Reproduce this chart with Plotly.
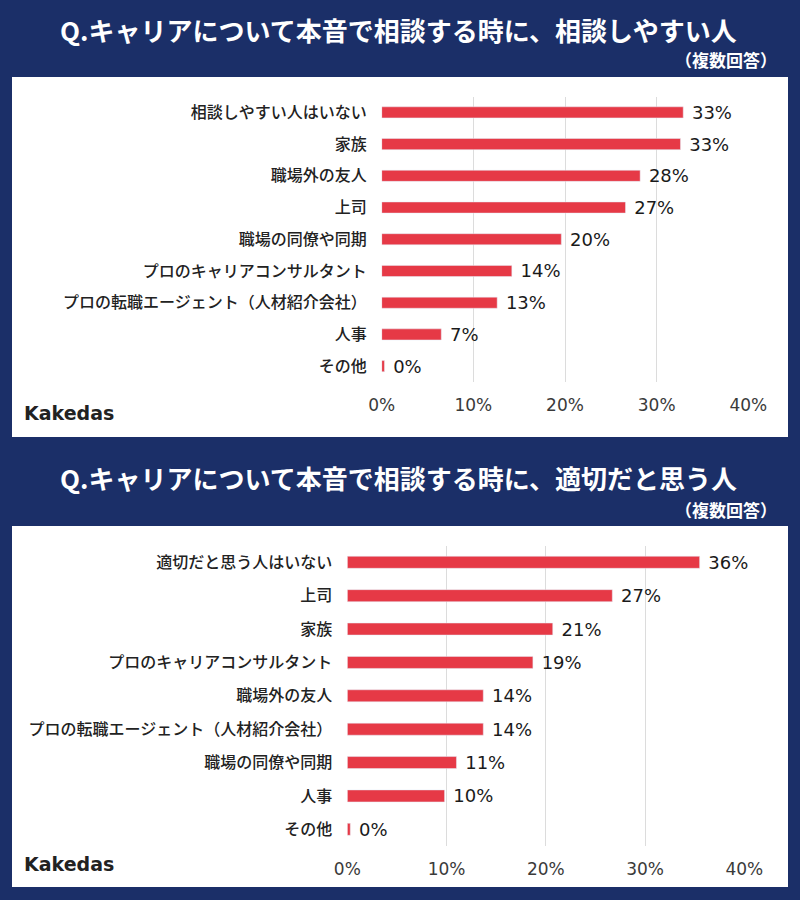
import plotly.graph_objects as go

# ---- data ----
cats_top = ["相談しやすい人はいない", "家族", "職場外の友人", "上司", "職場の同僚や同期",
            "プロのキャリアコンサルタント", "プロの転職エージェント（人材紹介会社）", "人事", "その他"]
vals_top = [32.9, 32.6, 28.2, 26.6, 19.6, 14.2, 12.6, 6.5, 0.3]

cats_bot = ["適切だと思う人はいない", "上司", "家族", "プロのキャリアコンサルタント", "職場外の友人",
            "プロの転職エージェント（人材紹介会社）", "職場の同僚や同期", "人事", "その他"]
vals_bot = [35.5, 26.7, 20.7, 18.7, 13.7, 13.7, 11.0, 9.8, 0.3]

x_ticks = [0, 10, 20, 30, 40]
x_ticklabels = ["0%", "10%", "20%", "30%", "40%"]

title_top = "Q.キャリアについて本音で相談する時に、相談しやすい人"
title_bot = "Q.キャリアについて本音で相談する時に、適切だと思う人"
subtitle = "（複数回答）"
brand = "Kakedas"

NAVY = "#1B2F68"
RED = "#E63946"
JP = "Noto Sans CJK JP"
NUM = "DejaVu Sans"

W, H = 800, 900
def px(x): return x / W
def py(y): return 1 - y / H

fig = go.Figure()

for vals, cats, xa, ya, bw in [(vals_top, cats_top, "x", "y", 0.35),
                               (vals_bot, cats_bot, "x2", "y2", 0.36)]:
    fig.add_trace(go.Bar(x=vals, y=cats, orientation="h", marker_color=RED,
                         texttemplate="\u00a0%{x:.0f}%", textposition="outside",
                         cliponaxis=False, constraintext="none",
                         textfont=dict(family=NUM, size=18, color="#1a1a1a"),
                         xaxis=xa, yaxis=ya, width=bw, hoverinfo="skip"))

xcommon = dict(range=[0, 40], tickvals=x_ticks, ticktext=x_ticklabels, showgrid=True,
               gridcolor="#dcdcdc", gridwidth=1, zeroline=False, showline=False,
               tickfont=dict(family=NUM, size=17, color="#3a3a3a"), fixedrange=True,
               ticks="outside", ticklen=8, tickcolor="rgba(0,0,0,0)", automargin=False)
ycommon = dict(autorange="reversed", showgrid=False, zeroline=False, showline=False,
               tickfont=dict(family=JP, size=16, color="#222", weight=500), ticklabelstandoff=14,
               fixedrange=True, automargin=False)

fig.update_layout(
    width=W, height=H, margin=dict(l=0, r=0, t=0, b=0, autoexpand=False),
    paper_bgcolor=NAVY, plot_bgcolor="white", showlegend=False,
    xaxis=dict(domain=[px(381.7), px(748.3)], anchor="y", **xcommon),
    yaxis=dict(domain=[py(382), py(96.5)], anchor="x", categoryorder="array",
               categoryarray=cats_top, **ycommon),
    xaxis2=dict(domain=[px(347.3), px(744.3)], anchor="y2", **xcommon),
    yaxis2=dict(domain=[py(846), py(545.6)], anchor="x2", categoryorder="array",
                categoryarray=cats_bot, **ycommon),
    shapes=[
        dict(type="rect", xref="paper", yref="paper", x0=px(12), x1=px(788),
             y0=py(437), y1=py(77), fillcolor="white", line_width=0, layer="below"),
        dict(type="rect", xref="paper", yref="paper", x0=px(12), x1=px(788),
             y0=py(887), y1=py(526), fillcolor="white", line_width=0, layer="below"),
    ],
)

ann = []
for t, yt, ys, yb in [(title_top, 29, 59, 413), (title_bot, 477, 509, 864)]:
    ann.append(dict(text=f"<b>{t}</b>", x=px(398), y=py(yt), xref="paper", yref="paper",
                    xanchor="center", yanchor="middle", showarrow=False,
                    font=dict(family=JP, size=26, color="white")))
    ann.append(dict(text=f"<b>{subtitle}</b>", x=px(779), y=py(ys), xref="paper", yref="paper",
                    xanchor="right", yanchor="middle", showarrow=False,
                    font=dict(family=JP, size=17, color="white")))
    ann.append(dict(text=f"<b>{brand}</b>", x=px(22), y=py(yb), xref="paper", yref="paper",
                    xanchor="left", yanchor="middle", showarrow=False,
                    font=dict(family="DejaVu Sans", size=19, color="#222")))
fig.update_layout(annotations=ann)

fig.write_html("out.html", config={"displayModeBar": False},
               post_script="document.body.style.margin='0';document.body.style.overflow='hidden';")
